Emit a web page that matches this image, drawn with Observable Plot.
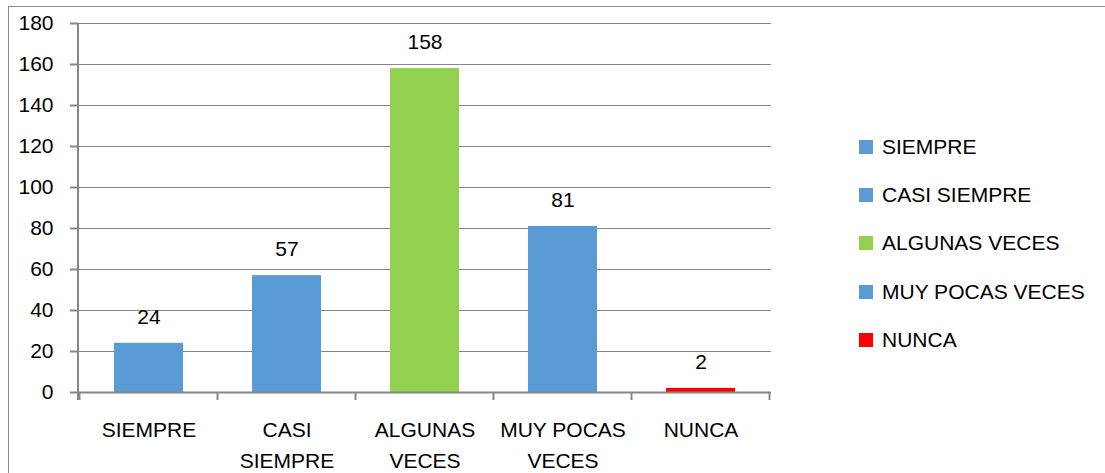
<!DOCTYPE html>
<html>
<head>
<meta charset="utf-8">
<script src="https://cdn.jsdelivr.net/npm/d3@7"></script>
<script src="https://cdn.jsdelivr.net/npm/@observablehq/plot@0.6"></script>
<style>
  html, body { margin: 0; padding: 0; background: #fff; }
  #wrap { position: relative; width: 1105px; height: 473px; overflow: hidden; font-family: "Liberation Sans", Arial, sans-serif; }
  #frame { position: absolute; left: 8px; top: 6px; width: 1200px; height: 600px; border-left: 1px solid #8a8a8a; border-top: 1px solid #8a8a8a; }
  #chart { position: absolute; left: 0; top: 0; }
  #legend { position: absolute; left: 859px; top: 0; }
  .item { position: absolute; left: 0; display: flex; align-items: center; white-space: nowrap; font-size: 21px; color: #000; }
  .sw { width: 14px; height: 14px; margin-right: 9px; }
</style>
</head>
<body>
<div id="wrap">
  <div id="frame"></div>
  <div id="chart"></div>
  <div id="legend"></div>
</div>
<script>
const categories = ["SIEMPRE", "CASI SIEMPRE", "ALGUNAS VECES", "MUY POCAS VECES", "NUNCA"];
const axisLabels = ["SIEMPRE", "CASI\nSIEMPRE", "ALGUNAS\nVECES", "MUY POCAS\nVECES", "NUNCA"];
const values = [24, 57, 158, 81, 2];
const colors = ["#5B9BD5", "#5B9BD5", "#92D050", "#5B9BD5", "#FF0000"];
const yTicks = [0, 20, 40, 60, 80, 100, 120, 140, 160, 180];

const data = categories.map((c, i) => ({category: c, value: values[i]}));

const W = 1105, H = 473;
const mL = 78, mR = 334, mT = 23, mB = 81;
const gray = "#868686";
const fs = 21;

// Custom mark: category boundary ticks below the baseline and the vertical y axis line
function frameTicks(index, scales, values, dimensions) {
  const x = scales.x, y = scales.y;
  const step = x.step(), bw = x.bandwidth(), gap = (step - bw) / 2;
  const edges = categories.map(c => x(c) - gap);
  edges.push(x(categories[categories.length - 1]) + bw + gap);
  const y0 = y(0), yTop = y(180);
  const g = d3.create("svg:g").attr("stroke", gray).attr("stroke-width", 2);
  g.selectAll("line.b").data(edges).join("line")
    .attr("x1", d => d).attr("x2", d => d)
    .attr("y1", y0).attr("y2", y0 + 8);
  g.append("line")
    .attr("x1", dimensions.marginLeft).attr("x2", dimensions.marginLeft)
    .attr("y1", yTop).attr("y2", y0 + 8);
  return g.node();
}

const chart = Plot.plot({
  width: W,
  height: H,
  marginLeft: mL,
  marginRight: mR,
  marginTop: mT,
  marginBottom: mB,
  style: {fontFamily: "'Liberation Sans', Arial, sans-serif", fontSize: fs + "px", color: "#000", background: "transparent"},
  x: {domain: categories, paddingInner: 0.5, paddingOuter: 0.25, label: null},
  y: {domain: [0, 180], label: null},
  color: {domain: categories, range: colors},
  marks: [
    Plot.ruleY(yTicks.filter(d => d > 0), {stroke: gray, strokeWidth: 1}),
    Plot.barY(data, {x: "category", y: "value", fill: "category"}),
    Plot.ruleY([0], {stroke: gray, strokeWidth: 2}),
    Plot.ruleX(categories, {x: d => d, render: frameTicks}),
    Plot.axisY({ticks: yTicks, tickSize: 8, tickPadding: 17, stroke: gray, strokeWidth: 2, fill: "#000", fontSize: fs}),
    Plot.axisX({tickSize: 0, tickPadding: 23, tickFormat: d => axisLabels[categories.indexOf(d)], lineHeight: 1.45, fill: "#000", fontSize: fs}),
    Plot.text(data, {x: "category", y: "value", text: d => String(d.value), dy: -26, fill: "#000", fontSize: fs})
  ]
});
document.getElementById("chart").appendChild(chart);

// Legend
const legend = document.getElementById("legend");
const legendTop = 147, legendStep = 48.2;
categories.forEach((c, i) => {
  const item = document.createElement("div");
  item.className = "item";
  item.style.top = (legendTop + i * legendStep - 12) + "px";
  item.style.height = "24px";
  const sw = document.createElement("div");
  sw.className = "sw";
  sw.style.background = colors[i];
  const t = document.createElement("span");
  t.textContent = c;
  item.appendChild(sw);
  item.appendChild(t);
  legend.appendChild(item);
});
</script>
</body>
</html>
